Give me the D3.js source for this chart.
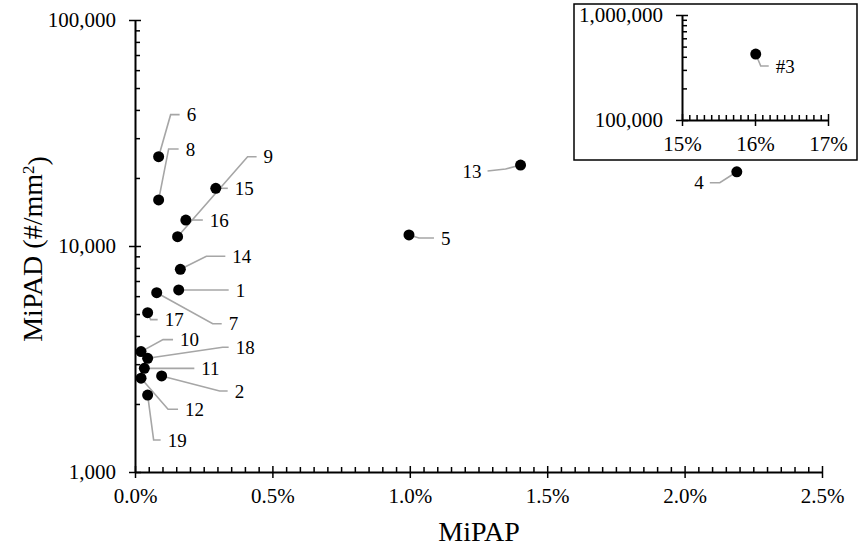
<!DOCTYPE html>
<html>
<head>
<meta charset="utf-8">
<script src="https://cdn.jsdelivr.net/npm/d3@7"></script>
<style>
  body { margin: 0; background: #fff; }
  text { font-family: "Liberation Serif", "Times New Roman", serif; fill: #000; }
</style>
</head>
<body>
<svg id="chart"></svg>
<script>
const width = 860;
const height = 552;

// sample ids, MiPAP (%), MiPAD (#/mm2)
const ids    = ["1", "2", "4", "5", "6", "7", "8", "9", "10", "11", "12", "13", "14", "15", "16", "17", "18", "19"];
const mipap  = [0.159, 0.097, 2.19, 0.997, 0.086, 0.079, 0.086, 0.155, 0.022, 0.034, 0.022, 1.403, 0.165, 0.294, 0.185, 0.046, 0.046, 0.046];
const mipad  = [6390, 2660, 21300, 11190, 24850, 6215, 15990, 10990, 3410, 2875, 2600, 22820, 7885, 18000, 13030, 5070, 3185, 2190];

// outlier shown in the inset
const insetId = "#3";
const insetMipap = 16.01;
const insetMipad = 425000;

const xTicks = [0, 0.5, 1.0, 1.5, 2.0, 2.5];
const yTicks = [1000, 10000, 100000];
const insetXTicks = [15, 16, 17];
const insetYTicks = [100000, 1000000];

// leader lines: [elbow dx, elbow dy, end dx, end dy] relative to the point
const leaders = {
  "1": [50, 0, 50, 0], "2": [58, 15, 66, 15], "4": [-17, 11, -27, 11], "5": [10, 3, 25, 3],
  "6": [12, -42, 21, -42], "7": [56, 31, 65, 31], "8": [10, -51, 20, -51], "9": [70, -80, 79, -80],
  "10": [22, -12, 32, -12], "11": [50, 0, 50, 0], "12": [27, 31, 37, 31], "13": [-15, 4, -33, 6],
  "14": [26, -13, 45, -13], "15": [12, 0, 12, 0], "16": [17, 0, 17, 0], "17": [3, 7, 10, 7],
  "18": [75, -11, 81, -11], "19": [6, 45, 13, 45], "#3": [5, 12, 13, 12]
};

const svg = d3.select("#chart").attr("width", width).attr("height", height);

const x = d3.scaleLinear().domain([0, 2.5]).range([135, 822]);
const y = d3.scaleLog().domain([1000, 100000]).range([472, 20]);

function minorLog(lo, hi) {
  const out = [];
  for (let p = lo; p < hi; p *= 10) for (let k = 2; k <= 9; k++) out.push(p * k);
  return out;
}

function drawAxes(g, xs, ys, xMajor, xMinor, yMajor, yMinor, xFmt, yFmt, fs) {
  const x0 = xs.range()[0], y0 = ys.range()[0];
  // minor ticks point into the plot
  g.append("g").attr("transform", `translate(0,${y0})`)
    .call(d3.axisBottom(xs).tickValues(xMinor).tickSize(-5).tickFormat(""))
    .call(a => a.select(".domain").remove());
  g.append("g").attr("transform", `translate(${x0},0)`)
    .call(d3.axisLeft(ys).tickValues(yMinor).tickSize(-5).tickFormat(""))
    .call(a => a.select(".domain").remove());

  const xa = g.append("g").attr("transform", `translate(0,${y0})`)
    .call(d3.axisBottom(xs).tickValues(xMajor).tickSize(6).tickPadding(10).tickFormat(xFmt).tickSizeOuter(0));
  xa.selectAll(".tick line").attr("y1", -6).attr("y2", 6);
  xa.selectAll("text").style("font-size", fs + "px").style("font-family", "Liberation Serif");

  const ya = g.append("g").attr("transform", `translate(${x0},0)`)
    .call(d3.axisLeft(ys).tickValues(yMajor).tickSize(6).tickPadding(13).tickFormat(yFmt).tickSizeOuter(0));
  ya.selectAll(".tick line").attr("x1", -6).attr("x2", 6);
  ya.selectAll("text").style("font-size", fs + "px").style("font-family", "Liberation Serif");

  g.selectAll(".domain").attr("stroke", "#000").attr("stroke-width", 2);
  g.selectAll(".tick line").attr("stroke", "#000").attr("stroke-width", 1.5);
}

function drawPoint(g, px, py, label, anchorEnd) {
  const l = leaders[label];
  g.append("path")
    .attr("d", d3.line()([[px, py], [px + l[0], py + l[1]], [px + l[2], py + l[3]]]))
    .attr("fill", "none").attr("stroke", "#a6a6a6").attr("stroke-width", 1.6);
  g.append("circle").attr("cx", px).attr("cy", py).attr("r", 5.5).attr("fill", "#000");
  g.append("text")
    .attr("x", px + l[2] + (anchorEnd ? -6 : 7))
    .attr("y", py + l[3])
    .attr("dy", "0.35em")
    .attr("text-anchor", anchorEnd ? "end" : "start")
    .style("font-size", "19px")
    .text(label);
}

// main chart
const main = svg.append("g");
const xMinor = d3.range(0, 2.5001, 0.05).filter(v => Math.abs(v / 0.5 - Math.round(v / 0.5)) > 1e-6);
drawAxes(main, x, y, xTicks, xMinor, yTicks, minorLog(1000, 100000),
  d => d.toFixed(1) + "%", d3.format(","), 21);

const pts = main.append("g");
ids.forEach((id, i) => {
  drawPoint(pts, x(mipap[i]), y(mipad[i]), id, leaders[id][2] < 0);
});

// axis titles
svg.append("text")
  .attr("x", 479).attr("y", 541)
  .attr("text-anchor", "middle")
  .style("font-size", "28px")
  .text("MiPAP");

const yt = svg.append("text")
  .attr("transform", "translate(42,249) rotate(-90)")
  .attr("text-anchor", "middle")
  .style("font-size", "28px");
yt.append("tspan").text("MiPAD (#/mm");
yt.append("tspan").attr("dy", "-0.45em").style("font-size", "17px").text("2");
yt.append("tspan").attr("dy", "0.45em").text(")");

// inset
const inset = svg.append("g");
inset.append("rect")
  .attr("x", 574).attr("y", 4).attr("width", 283).attr("height", 156)
  .attr("fill", "#fff").attr("stroke", "#000").attr("stroke-width", 1.5);

const ix = d3.scaleLinear().domain([15, 17]).range([682, 828]);
const iy = d3.scaleLog().domain([100000, 1000000]).range([120, 15]);
const ixMinor = d3.range(15, 17.0001, 0.1).filter(v => Math.abs(v - Math.round(v)) > 1e-6);
drawAxes(inset, ix, iy, insetXTicks, ixMinor, insetYTicks, minorLog(100000, 1000000),
  d => d + "%", d3.format(","), 21);
drawPoint(inset, ix(insetMipap), iy(insetMipad), insetId, false);
</script>
</body>
</html>
